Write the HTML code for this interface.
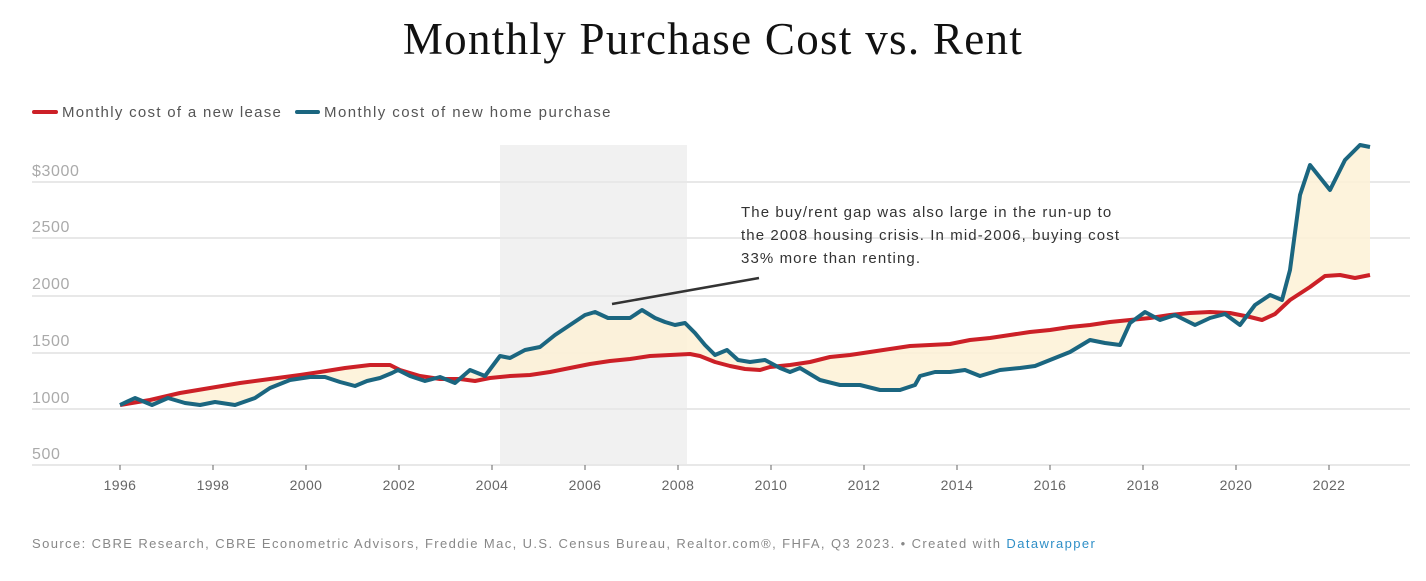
<!DOCTYPE html>
<html><head><meta charset="utf-8"><style>
html,body{margin:0;padding:0;background:#fff;}
body{width:1426px;height:581px;overflow:hidden;position:relative;font-family:"Liberation Sans",sans-serif;}
</style></head><body>
<svg width="1426" height="581" xmlns="http://www.w3.org/2000/svg" style="position:absolute;left:0;top:0">
<text x="713" y="54" text-anchor="middle" font-family="Liberation Serif, serif" font-size="45" letter-spacing="1.3" fill="#111">Monthly Purchase Cost vs. Rent</text>
<line x1="34" y1="112" x2="56" y2="112" stroke="#cc2027" stroke-width="4" stroke-linecap="round"/>
<text x="62" y="117" font-size="15" letter-spacing="1.3" fill="#555">Monthly cost of a new lease</text>
<line x1="297" y1="112" x2="318" y2="112" stroke="#1b6680" stroke-width="4" stroke-linecap="round"/>
<text x="324" y="117" font-size="15" letter-spacing="1.45" fill="#555">Monthly cost of new home purchase</text>
<rect x="500" y="145" width="187" height="320" fill="#f1f1f1"/>
<g stroke="#e8e8e8" stroke-width="2">
<line x1="32" y1="182" x2="1410" y2="182"/><line x1="32" y1="238" x2="1410" y2="238"/>
<line x1="32" y1="296" x2="1410" y2="296"/><line x1="32" y1="353" x2="1410" y2="353"/>
<line x1="32" y1="409" x2="1410" y2="409"/><line x1="32" y1="465" x2="1410" y2="465"/>
</g>
<g font-size="16" letter-spacing="0.6" fill="#aaa">
<text x="32" y="176">$3000</text><text x="32" y="232">2500</text><text x="32" y="289">2000</text>
<text x="32" y="346">1500</text><text x="32" y="403">1000</text><text x="32" y="459">500</text>
</g>
<g stroke="#666" stroke-width="1">
<line x1="120" y1="465" x2="120" y2="470"/><line x1="213" y1="465" x2="213" y2="470"/><line x1="306" y1="465" x2="306" y2="470"/><line x1="399" y1="465" x2="399" y2="470"/><line x1="492" y1="465" x2="492" y2="470"/><line x1="585" y1="465" x2="585" y2="470"/><line x1="678" y1="465" x2="678" y2="470"/><line x1="771" y1="465" x2="771" y2="470"/><line x1="864" y1="465" x2="864" y2="470"/><line x1="957" y1="465" x2="957" y2="470"/><line x1="1050" y1="465" x2="1050" y2="470"/><line x1="1143" y1="465" x2="1143" y2="470"/><line x1="1236" y1="465" x2="1236" y2="470"/><line x1="1329" y1="465" x2="1329" y2="470"/>
</g>
<g font-size="14" fill="#666" text-anchor="middle" letter-spacing="0.4">
<text x="120" y="490">1996</text><text x="213" y="490">1998</text><text x="306" y="490">2000</text><text x="399" y="490">2002</text><text x="492" y="490">2004</text><text x="585" y="490">2006</text><text x="678" y="490">2008</text><text x="771" y="490">2010</text><text x="864" y="490">2012</text><text x="957" y="490">2014</text><text x="1050" y="490">2016</text><text x="1143" y="490">2018</text><text x="1236" y="490">2020</text><text x="1329" y="490">2022</text>
</g>
<polygon fill="#fdf1d6" opacity="0.85" points="120,405 135,398 152,405 168,398 185,403 200,405 215,402 235,405 255,398 270,388 290,380 310,377 325,377 340,382 355,386 367,381 380,378 392,373 398,370 410,376 425,381 440,377 455,383 470,370 485,376 500,356 510,358 525,350 540,347 555,335 570,325 585,315 595,312 608,318 620,318 630,318 642,310 655,318 665,322 675,325 685,323 695,333 705,345 715,355 727,350 738,360 750,362 765,360 780,368 790,372 800,368 820,380 840,385 860,385 880,390 900,390 915,385 920,376 935,372 950,372 965,370 980,376 1000,370 1020,368 1035,366 1050,360 1070,352 1090,340 1105,343 1120,345 1130,323 1145,312 1160,320 1175,315 1195,325 1210,318 1225,314 1240,325 1255,305 1270,295 1282,300 1290,270 1300,195 1310,165 1322,180 1330,190 1345,160 1360,145 1370,147 1370,275 1355,278 1340,275 1325,276 1310,287 1290,300 1275,314 1262,320 1250,317 1230,313 1210,312 1190,313 1170,315 1150,318 1130,320 1110,322 1090,325 1070,327 1050,330 1030,332 1010,335 990,338 970,340 950,344 930,345 910,346 890,349 870,352 850,355 830,357 810,362 790,365 770,367 760,370 745,369 730,366 715,362 700,356 690,354 670,355 650,356 630,359 610,361 590,364 570,368 550,372 530,375 510,376 490,378 475,381 460,379 440,379 420,376 400,370 390,365 370,365 345,368 320,372 300,375 270,379 240,383 210,388 180,393 150,400 120,405"/>
<polyline fill="none" stroke="#cc2027" stroke-width="4" stroke-linejoin="round" points="120,405 150,400 180,393 210,388 240,383 270,379 300,375 320,372 345,368 370,365 390,365 400,370 420,376 440,379 460,379 475,381 490,378 510,376 530,375 550,372 570,368 590,364 610,361 630,359 650,356 670,355 690,354 700,356 715,362 730,366 745,369 760,370 770,367 790,365 810,362 830,357 850,355 870,352 890,349 910,346 930,345 950,344 970,340 990,338 1010,335 1030,332 1050,330 1070,327 1090,325 1110,322 1130,320 1150,318 1170,315 1190,313 1210,312 1230,313 1250,317 1262,320 1275,314 1290,300 1310,287 1325,276 1340,275 1355,278 1370,275"/>
<polyline fill="none" stroke="#1b6680" stroke-width="4" stroke-linejoin="round" points="120,405 135,398 152,405 168,398 185,403 200,405 215,402 235,405 255,398 270,388 290,380 310,377 325,377 340,382 355,386 367,381 380,378 392,373 398,370 410,376 425,381 440,377 455,383 470,370 485,376 500,356 510,358 525,350 540,347 555,335 570,325 585,315 595,312 608,318 620,318 630,318 642,310 655,318 665,322 675,325 685,323 695,333 705,345 715,355 727,350 738,360 750,362 765,360 780,368 790,372 800,368 820,380 840,385 860,385 880,390 900,390 915,385 920,376 935,372 950,372 965,370 980,376 1000,370 1020,368 1035,366 1050,360 1070,352 1090,340 1105,343 1120,345 1130,323 1145,312 1160,320 1175,315 1195,325 1210,318 1225,314 1240,325 1255,305 1270,295 1282,300 1290,270 1300,195 1310,165 1322,180 1330,190 1345,160 1360,145 1370,147"/>
<line x1="612" y1="304" x2="759" y2="278" stroke="#333" stroke-width="2.5"/>
<g font-size="15" fill="#333" letter-spacing="1.1">
<text x="741" y="217">The buy/rent gap was also large in the run-up to</text>
<text x="741" y="240">the 2008 housing crisis. In mid-2006, buying cost</text>
<text x="741" y="263">33% more than renting.</text>
</g>
<text x="32" y="548" font-size="13" letter-spacing="1.4" fill="#888">Source: CBRE Research, CBRE Econometric Advisors, Freddie Mac, U.S. Census Bureau, Realtor.com®, FHFA, Q3 2023. • Created with <tspan fill="#2f8fc7">Datawrapper</tspan></text>
</svg>
</body></html>
